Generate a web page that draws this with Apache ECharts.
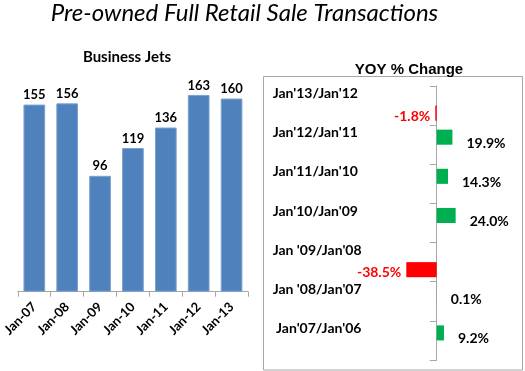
<!DOCTYPE html>
<html><head><meta charset="utf-8">
<script src="https://cdn.jsdelivr.net/npm/echarts@6/dist/echarts.min.js"></script>
<style>html,body{margin:0;padding:0;background:#fff}#c{width:525px;height:371px}</style>
</head><body><div id="c"></div>
<script>
const jetCategories = ['Jan-07','Jan-08','Jan-09','Jan-10','Jan-11','Jan-12','Jan-13'];
const jetValues = [155,156,96,119,136,163,160];
const yoyCategories = ["Jan'13/Jan'12","Jan'12/Jan'11","Jan'11/Jan'10","Jan'10/Jan'09","Jan '09/Jan'08","Jan '08/Jan'07"," Jan'07/Jan'06"];
const yoyValues = [-1.8,19.9,14.3,24.0,-38.5,0.1,9.2];

const posVals = yoyValues.map(v => v >= 0 ? v : null);
const negVals = yoyValues.map(v => v < 0 ? v : null);
const F = 'Lato';
const chart = echarts.init(document.getElementById('c'), null, {renderer:'canvas'});
chart.setOption({
  animation:false,
  textStyle:{fontFamily:F},
  title:[
    {text:'Pre-owned Full Retail Sale Transactions',left:239.5,textAlign:'center',top:-4,
     textStyle:{fontFamily:F,fontStyle:'italic',fontWeight:'normal',fontSize:24,color:'#000'}},
    {text:'Business Jets',left:122,textAlign:'center',top:45,
     textStyle:{fontFamily:F,fontWeight:'bold',fontSize:15,color:'#000'}},
    {text:'YOY % Change',left:404,textAlign:'center',top:57,
     textStyle:{fontFamily:'Liberation Sans',fontWeight:'bold',fontSize:15,color:'#000'}}
  ],
  graphic:[{type:'rect',shape:{x:263.5,y:76.5,width:259,height:293.5},
    style:{fill:'none',stroke:'#a6a6a6',lineWidth:1},z:-1}],
  grid:[
    {left:16,right:277,top:74.4,bottom:79.3},
    {left:389.3,right:40.9,top:86,bottom:11}
  ],
  xAxis:[
    {type:'category',gridIndex:0,data:jetCategories,
     axisLine:{lineStyle:{color:'#a6a6a6'}},
     axisTick:{show:true,length:5,lineStyle:{color:'#a6a6a6'}},
     axisLabel:{rotate:45,color:'#000',fontWeight:'bold',fontSize:13,fontFamily:F,margin:13,interval:0}},
    {type:'value',gridIndex:1,min:-60,max:60,show:false}
  ],
  yAxis:[
    {type:'value',gridIndex:0,min:0,max:180,show:false},
    {type:'category',gridIndex:1,data:yoyCategories,inverse:true,
     axisLine:{onZero:true,lineStyle:{color:'#a6a6a6'}},
     axisTick:{show:true,length:7,lineStyle:{color:'#a6a6a6'}},
     axisLabel:{margin:16.6,interval:0,
       formatter:v => '{a|' + v + '}\n{b| }',
       rich:{
         a:{width:100,align:'left',color:'#000',fontWeight:'bold',fontSize:14,fontFamily:F,lineHeight:17},
         b:{width:100,lineHeight:24,fontSize:10}
       }}}
  ],
  series:[
    {type:'bar',xAxisIndex:0,yAxisIndex:0,data:jetValues,barCategoryGap:'34%',
     itemStyle:{color:'#4f81bd',borderColor:'#7da2cf',borderWidth:1},
     label:{show:true,position:'top',distance:3,color:'#000',fontWeight:'bold',fontSize:13,fontFamily:F}},
    {type:'bar',xAxisIndex:1,yAxisIndex:1,data:posVals,barGap:'0%',barCategoryGap:'23%',
     itemStyle:{color:'#00b050'},
     label:{show:true,position:'right',distance:14,offset:[0,6],color:'#000',fontWeight:'bold',fontSize:14,fontFamily:F,
       formatter:p=>p.value.toFixed(1)+'%'}},
    {type:'bar',xAxisIndex:1,yAxisIndex:1,data:negVals,barGap:'0%',barCategoryGap:'23%',
     itemStyle:{color:'#ff0000'},
     label:{show:true,position:'left',distance:5,offset:[0,3],color:'#ff0000',fontWeight:'bold',fontSize:14,fontFamily:F,
       formatter:p=>p.value.toFixed(1)+'%'}}
  ]
});
</script></body></html>
